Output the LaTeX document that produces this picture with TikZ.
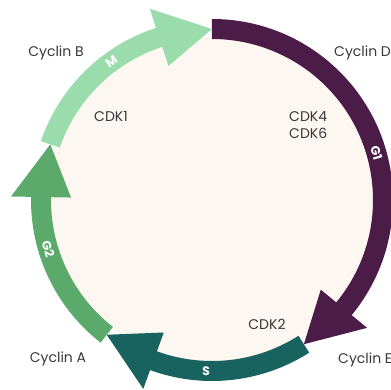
\documentclass[tikz,border=0pt]{standalone}
\usepackage{fontspec}
\setmainfont{Poppins}
\definecolor{cream}{HTML}{FCF7F0}
\definecolor{gone}{HTML}{4B1C48}
\definecolor{sph}{HTML}{18625F}
\definecolor{gtwo}{HTML}{5BAA6B}
\definecolor{mph}{HTML}{9ADCAB}
\definecolor{txt}{HTML}{383838}
\begin{document}
\begin{tikzpicture}[x=1pt,y=1pt,
  lbl/.style={text=txt,font=\fontsize{14}{16}\selectfont,inner sep=0pt},
  phl/.style={text=white,font=\fontsize{12.5}{14}\selectfont\bfseries,inner sep=0pt}]
\useasboundingbox (-212,-189) rectangle (179,200);
\fill[cream] (0,0) circle (163);
% phase arrows: band from a to b (clockwise), tip at b-18
\newcommand{\phasearrow}[3]{%
  \fill[#3] (#1:181) arc[start angle=#1,end angle=#2,radius=181]
    -- (#2:201) -- ({#2-18}:171) -- (#2:141) -- (#2:161)
    arc[start angle=#2,end angle=#1,radius=161] -- cycle;}
\phasearrow{90}{-39.5}{gone}
\phasearrow{-57.5}{-110}{sph}
\phasearrow{-128}{-181}{gtwo}
\phasearrow{161}{108}{mph}
\node[phl,rotate=-74] (g1) at (16:171) {G1};
\node[phl,rotate=-2] (s) at (-92:171) {S};
\node[phl,rotate=-73.4] (g2) at (-163.4:171) {G2};
\node[phl,rotate=36] (m) at (126:171) {M};
\node[lbl] (cb) at (-156,147) {Cyclin B};
\node[lbl] (c1) at (-101,84) {CDK1};
\node[lbl,anchor=west] (cd) at (122,147) {Cyclin D};
\node[lbl,anchor=west] (c4) at (77,83.5) {CDK4};
\node[lbl,anchor=west] (c6) at (77,67) {CDK6};
\node[lbl] (c2) at (55,-124) {CDK2};
\node[lbl] (ca) at (-154,-159) {Cyclin A};
\node[lbl,anchor=west] (ce) at (126,-160) {Cyclin E};
\end{tikzpicture}
\end{document}
